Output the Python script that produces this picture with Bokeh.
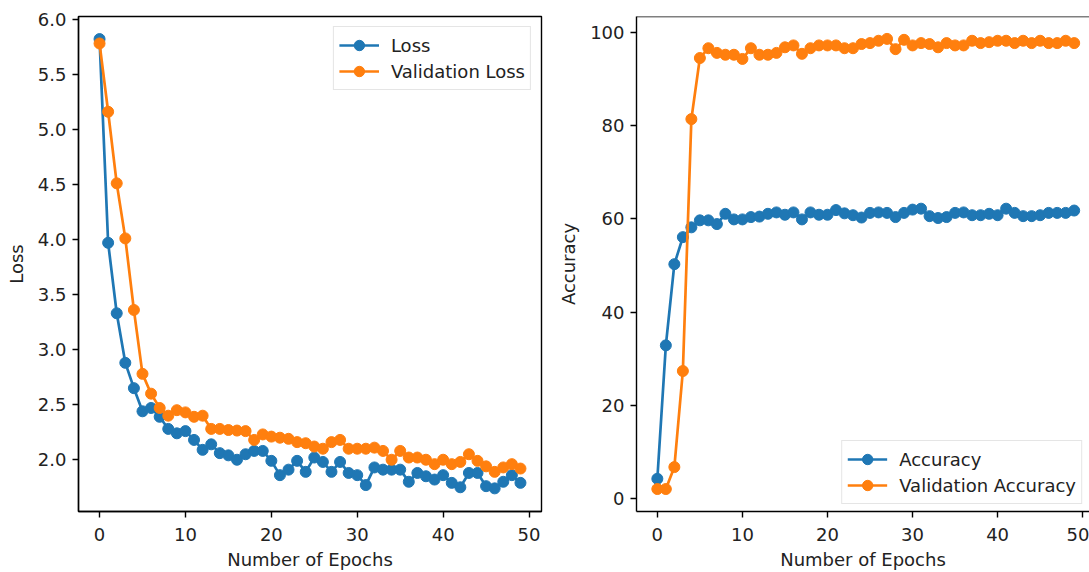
from bokeh.plotting import figure
from bokeh.layouts import row
from bokeh.models import Range1d, FixedTicker, PrintfTickFormatter, Span
from bokeh.embed import file_html
from bokeh.resources import INLINE

# Training history, one value per epoch
epochs = list(range(50))

loss = [5.82, 3.97, 3.33, 2.88, 2.65, 2.44, 2.47, 2.39, 2.28, 2.24,
        2.26, 2.18, 2.09, 2.14, 2.06, 2.04, 2.00, 2.05, 2.08, 2.08,
        1.99, 1.86, 1.91, 1.99, 1.89, 2.02, 1.98, 1.89, 1.98, 1.88,
        1.86, 1.77, 1.93, 1.91, 1.91, 1.91, 1.80, 1.88, 1.85, 1.82,
        1.86, 1.79, 1.75, 1.88, 1.88, 1.76, 1.74, 1.80, 1.86, 1.79]

val_loss = [5.78, 5.16, 4.51, 4.01, 3.36, 2.78, 2.60, 2.47, 2.40, 2.45,
            2.43, 2.39, 2.40, 2.28, 2.28, 2.27, 2.265, 2.26, 2.18, 2.23,
            2.21, 2.20, 2.19, 2.16, 2.15, 2.12, 2.10, 2.16, 2.18, 2.10,
            2.10, 2.10, 2.11, 2.08, 2.00, 2.08, 2.02, 2.02, 2.00, 1.96,
            2.00, 1.96, 1.98, 2.05, 1.99, 1.94, 1.89, 1.93, 1.96, 1.92]

accuracy = [4.3, 32.9, 50.3, 56.1, 58.2, 59.7, 59.7, 58.9, 61.1, 59.9,
            59.9, 60.4, 60.5, 61.1, 61.4, 60.9, 61.4, 59.9, 61.4, 60.9,
            60.9, 61.9, 61.2, 60.8, 60.3, 61.3, 61.4, 61.3, 60.4, 61.3,
            62.0, 62.2, 60.6, 60.2, 60.4, 61.3, 61.4, 60.8, 60.8, 61.1,
            60.8, 62.2, 61.3, 60.6, 60.6, 60.8, 61.3, 61.3, 61.3, 61.8]

val_accuracy = [2.1, 2.1, 6.8, 27.4, 81.4, 94.5, 96.6, 95.6, 95.2, 95.2,
                94.3, 96.6, 95.2, 95.2, 95.6, 96.8, 97.2, 95.4, 96.6, 97.2,
                97.2, 97.2, 96.6, 96.6, 97.5, 97.7, 98.2, 98.6, 96.4, 98.4,
                97.2, 97.7, 97.5, 96.8, 97.7, 97.2, 97.2, 98.2, 97.7, 97.9,
                98.2, 98.2, 97.7, 98.2, 97.7, 98.2, 97.7, 97.7, 98.2, 97.7]

x_ticks = [0, 10, 20, 30, 40, 50]
loss_ticks = [2.0, 2.5, 3.0, 3.5, 4.0, 4.5, 5.0, 5.5, 6.0]
acc_ticks = [0, 20, 40, 60, 80, 100]

BLUE = "#1f77b4"
ORANGE = "#ff7f0e"
FONT = "DejaVu Sans"
TEXT = "#222222"
FS = "18px"


def style_axes(p):
    p.xgrid.visible = False
    p.ygrid.visible = False
    p.background_fill_color = "white"
    p.border_fill_color = "white"
    for ax in (p.xaxis[0], p.yaxis[0]):
        ax.axis_line_color = "black"
        ax.axis_line_width = 1.4
        ax.major_tick_line_color = "black"
        ax.major_tick_line_width = 1.4
        ax.major_tick_out = 6
        ax.major_tick_in = 0
        ax.minor_tick_line_color = None
        ax.major_label_text_font = FONT
        ax.major_label_text_font_size = FS
        ax.major_label_text_color = TEXT
        ax.major_label_standoff = 6
        ax.axis_label_text_font = FONT
        ax.axis_label_text_font_size = FS
        ax.axis_label_text_font_style = "normal"
        ax.axis_label_text_color = TEXT
    p.xaxis[0].major_label_standoff = 10
    p.xaxis[0].axis_label_standoff = 5
    p.yaxis[0].axis_label_standoff = 8
    p.xaxis[0].ticker = FixedTicker(ticks=x_ticks)
    p.xaxis[0].axis_label = "Number of Epochs"


def draw_series(p, xs, ys, color, label):
    p.line(xs, ys, line_color=color, line_width=2.7, legend_label=label)
    p.scatter(xs, ys, size=11, fill_color=color, line_color=color,
              legend_label=label)


def style_legend(p, location):
    lg = p.legend[0]
    lg.location = location
    lg.label_text_font = FONT
    lg.label_text_font_size = FS
    lg.label_text_color = TEXT
    lg.glyph_width = 40
    lg.glyph_height = 26
    lg.label_standoff = 12
    lg.spacing = 0
    lg.padding = 5
    lg.margin = 10
    lg.border_line_color = "#cccccc"
    lg.border_line_width = 1
    lg.background_fill_alpha = 0.8


# Loss panel
p1 = figure(width=555, height=572,
            x_range=Range1d(-2.45, 51.45), y_range=Range1d(1.53, 6.025),
            output_backend="svg", toolbar_location=None,
            min_border_left=78, min_border_right=14,
            min_border_top=16, min_border_bottom=60)
p1.outline_line_color = "black"
p1.outline_line_width = 1.4
style_axes(p1)
p1.yaxis[0].ticker = FixedTicker(ticks=loss_ticks)
p1.yaxis[0].formatter = PrintfTickFormatter(format="%.1f")
p1.yaxis[0].axis_label = "Loss"
draw_series(p1, epochs, loss, BLUE, "Loss")
draw_series(p1, epochs, val_loss, ORANGE, "Validation Loss")
style_legend(p1, "top_right")

# Accuracy panel
p2 = figure(width=534, height=572,
            x_range=Range1d(-2.45, 50.8), y_range=Range1d(-2.72, 103.4),
            output_backend="svg", toolbar_location=None,
            min_border_left=78, min_border_right=0,
            min_border_top=16, min_border_bottom=60)
p2.outline_line_color = None
style_axes(p2)
p2.yaxis[0].ticker = FixedTicker(ticks=acc_ticks)
p2.yaxis[0].axis_label = "Accuracy"
p2.add_layout(Span(location=103.4, dimension="width",
                   line_color="black", line_width=1.4))
draw_series(p2, epochs, accuracy, BLUE, "Accuracy")
draw_series(p2, epochs, val_accuracy, ORANGE, "Validation Accuracy")
style_legend(p2, "bottom_right")
p2.legend[0].margin = 7

layout = row(p1, p2)
open("out.html", "w").write(file_html(layout, INLINE))
